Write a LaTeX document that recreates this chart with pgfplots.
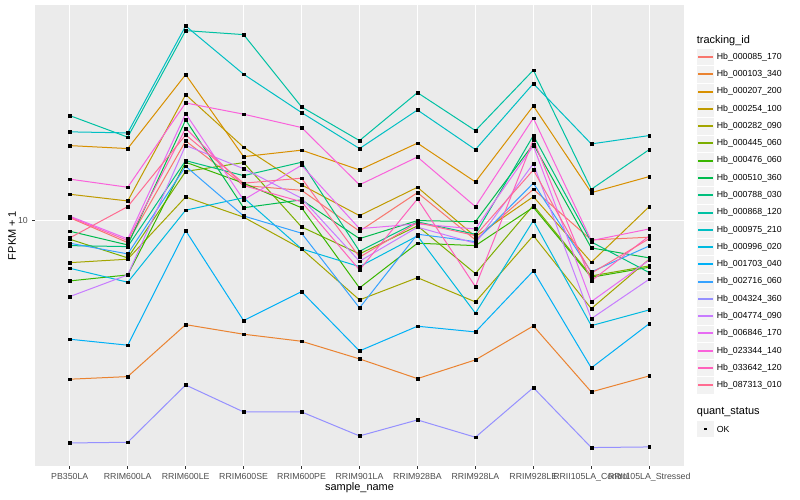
\documentclass[border=0pt]{standalone}
\usepackage{fontspec}
\setmainfont{Liberation Sans}
\usepackage{pgfplots}
\usepackage{pgfplotstable}
\pgfplotsset{compat=1.18}
\definecolor{sa}{HTML}{F8766D}
\definecolor{sb}{HTML}{EA8331}
\definecolor{sc}{HTML}{D89000}
\definecolor{sd}{HTML}{C09B00}
\definecolor{se}{HTML}{A3A500}
\definecolor{sf}{HTML}{7CAE00}
\definecolor{sg}{HTML}{39B600}
\definecolor{sh}{HTML}{00BB4E}
\definecolor{si}{HTML}{00BF7D}
\definecolor{sj}{HTML}{00C1A3}
\definecolor{sk}{HTML}{00BFC4}
\definecolor{sl}{HTML}{00BAE0}
\definecolor{sm}{HTML}{00B0F6}
\definecolor{sn}{HTML}{35A2FF}
\definecolor{so}{HTML}{9590FF}
\definecolor{sp}{HTML}{C77CFF}
\definecolor{sq}{HTML}{E76BF3}
\definecolor{sr}{HTML}{FA62DB}
\definecolor{ss}{HTML}{FF62BC}
\definecolor{st}{HTML}{FF6C91}
\definecolor{panelbg}{HTML}{EBEBEB}
\definecolor{keybg}{HTML}{F2F2F2}
\definecolor{grey30}{HTML}{4D4D4D}
\definecolor{grey20}{HTML}{333333}

\pgfplotstableread{
x s1 s2 s3 s4 s5 s6 s7 s8 s9 s10 s11 s12 s13 s14 s15 s16 s17 s18 s19 s20
0 10.19 4.021 15.43 11.66 7.867 9.002 7.081 9.426 8.676 18.34 16.70 7.617 5.062 8.797 2.786 6.470 10.28 12.72 10.23 9.069
1 8.828 4.082 15.17 11.22 8.023 8.084 7.330 8.710 8.627 16.20 16.60 7.028 4.891 8.271 2.797 7.330 9.018 12.14 8.930 10.86
2 15.85 5.505 23.22 20.69 11.48 13.30 14.02 17.89 14.15 29.91 30.73 10.64 9.459 13.70 3.890 15.45 18.55 19.73 17.04 16.41
3 12.26 5.210 14.48 15.29 10.22 13.99 12.43 10.79 12.98 29.23 23.27 11.43 5.634 10.29 3.331 13.51 11.29 18.49 12.26 12.43
4 11.93 5.003 15.03 12.31 8.514 9.663 10.79 11.29 14.02 19.28 18.66 8.514 6.658 9.319 3.331 11.40 13.78 17.12 11.17 12.79
5 9.426 4.519 13.41 10.31 6.347 8.271 6.801 9.033 8.401 15.88 15.17 7.689 4.732 6.062 2.901 7.930 9.567 12.31 7.543 8.116
6 11.77 4.035 15.65 12.14 7.215 9.719 8.797 10.02 9.944 20.93 18.94 9.174 5.455 9.265 3.181 9.646 9.831 14.45 11.35 9.904
7 8.966 4.494 12.52 9.136 6.275 7.385 8.676 9.961 9.265 16.82 15.08 5.880 5.279 8.879 2.879 8.797 9.550 10.86 6.852 9.190
8 12.00 5.464 19.39 11.50 9.190 10.94 10.82 15.56 16.35 23.82 22.05 10.02 7.501 12.43 3.831 13.91 15.41 18.07 15.94 13.41
9 8.966 3.738 11.77 7.885 6.037 7.287 7.232 8.563 8.864 12.00 15.58 5.473 4.292 7.458 2.713 5.699 6.285 8.930 7.081 7.402
10 9.105 4.098 12.91 10.86 8.023 7.720 7.662 8.084 7.428 15.08 16.35 5.992 5.537 8.661 2.723 7.150 7.990 9.550 9.174 9.033
}\data

\begin{document}
\begin{tikzpicture}[x=1bp,y=1bp]
\useasboundingbox (0,0) rectangle (800,500);
\begin{axis}[
  at={(35bp,34bp)}, anchor=south west,
  scale only axis, width=649bp, height=461bp,
  xmin=-0.6, xmax=10.6,
  ymode=log, ymin=2.440, ymax=34.67,
  axis background/.style={fill=panelbg},
  axis line style={draw=none},
  grid=major,
  major grid style={draw=white, line width=1.07bp},
  yminorticks=false,
  xtick={0,1,2,3,4,5,6,7,8,9,10},
  xticklabels={PB350LA,RRIM600LA,RRIM600LE,RRIM600SE,RRIM600PE,RRIM901LA,RRIM928BA,RRIM928LA,RRIM928LE,RRII105LA\_Control,RRII105LA\_Stressed},
  ytick={10}, yticklabels={10},
  tick pos=left, tick align=outside,
  major tick length=2.75bp,
  tick style={draw=grey20, line width=1.07bp},
  tick label style={font=\fontsize{8.8}{10}\selectfont, text=grey30},
  xticklabel style={inner sep=0pt, anchor=north, yshift=-4.2bp},
  yticklabel style={inner sep=0pt, anchor=east, xshift=-4.2bp},
  xlabel={sample\_name}, ylabel={FPKM + 1},
  label style={font=\fontsize{11}{13}\selectfont},
  xlabel style={at={(axis description cs:0.5,-0.046)}, anchor=center, inner sep=0pt},
  ylabel style={at={(axis description cs:-0.0354,0.5)}, anchor=center, inner sep=0pt},
]
\addplot[draw=sa, line width=1bp, no markers] table[x=x,y=s1]{\data};
\addplot[draw=sb, line width=1bp, no markers] table[x=x,y=s2]{\data};
\addplot[draw=sc, line width=1bp, no markers] table[x=x,y=s3]{\data};
\addplot[draw=sd, line width=1bp, no markers] table[x=x,y=s4]{\data};
\addplot[draw=se, line width=1bp, no markers] table[x=x,y=s5]{\data};
\addplot[draw=sf, line width=1bp, no markers] table[x=x,y=s6]{\data};
\addplot[draw=sg, line width=1bp, no markers] table[x=x,y=s7]{\data};
\addplot[draw=sh, line width=1bp, no markers] table[x=x,y=s8]{\data};
\addplot[draw=si, line width=1bp, no markers] table[x=x,y=s9]{\data};
\addplot[draw=sj, line width=1bp, no markers] table[x=x,y=s10]{\data};
\addplot[draw=sk, line width=1bp, no markers] table[x=x,y=s11]{\data};
\addplot[draw=sl, line width=1bp, no markers] table[x=x,y=s12]{\data};
\addplot[draw=sm, line width=1bp, no markers] table[x=x,y=s13]{\data};
\addplot[draw=sn, line width=1bp, no markers] table[x=x,y=s14]{\data};
\addplot[draw=so, line width=1bp, no markers] table[x=x,y=s15]{\data};
\addplot[draw=sp, line width=1bp, no markers] table[x=x,y=s16]{\data};
\addplot[draw=sq, line width=1bp, no markers] table[x=x,y=s17]{\data};
\addplot[draw=sr, line width=1bp, no markers] table[x=x,y=s18]{\data};
\addplot[draw=ss, line width=1bp, no markers] table[x=x,y=s19]{\data};
\addplot[draw=st, line width=1bp, no markers] table[x=x,y=s20]{\data};
\pgfplotsinvokeforeach{1,...,20}{
  \addplot[only marks, mark=square*, mark size=1.4bp, black] table[x=x,y=s#1]{\data};
}
\end{axis}
% legend: tracking_id
\node[anchor=west, inner sep=0pt, font=\fontsize{11}{13}\selectfont] at (696.7,459.3) {tracking\_id};
\foreach \i/\n/\clr in {0/Hb\_000085\_170/sa,1/Hb\_000103\_340/sb,2/Hb\_000207\_200/sc,3/Hb\_000254\_100/sd,4/Hb\_000282\_090/se,5/Hb\_000445\_060/sf,6/Hb\_000476\_060/sg,7/Hb\_000510\_360/sh,8/Hb\_000788\_030/si,9/Hb\_000868\_120/sj,10/Hb\_000975\_210/sk,11/Hb\_000996\_020/sl,12/Hb\_001703\_040/sm,13/Hb\_002716\_060/sn,14/Hb\_004324\_360/so,15/Hb\_004774\_090/sp,16/Hb\_006846\_170/sq,17/Hb\_023344\_140/sr,18/Hb\_033642\_120/ss,19/Hb\_087313\_010/st}{
  \pgfmathsetmacro{\yc}{443-17.28*\i}
  \fill[keybg, draw=white, line width=0.5bp] (696.7,\yc-8.64) rectangle (713.98,\yc+8.64);
  \fill[fill=\clr] (698.2,\yc-1.0) rectangle (712.5,\yc+1.0);
  \node[anchor=west, inner sep=0pt, font=\fontsize{8.8}{10}\selectfont] at (716.7,\yc) {\n};
}
% legend: quant_status
\node[anchor=west, inner sep=0pt, font=\fontsize{11}{13}\selectfont] at (696.7,88.3) {quant\_status};
\fill[keybg, draw=white, line width=0.5bp] (696.7,62.4) rectangle (713.98,79.7);
\fill[black] (703.9,69.6) rectangle (706.7,72.4);
\node[anchor=west, inner sep=0pt, font=\fontsize{8.8}{10}\selectfont] at (716.7,71) {OK};
\end{tikzpicture}
\end{document}
